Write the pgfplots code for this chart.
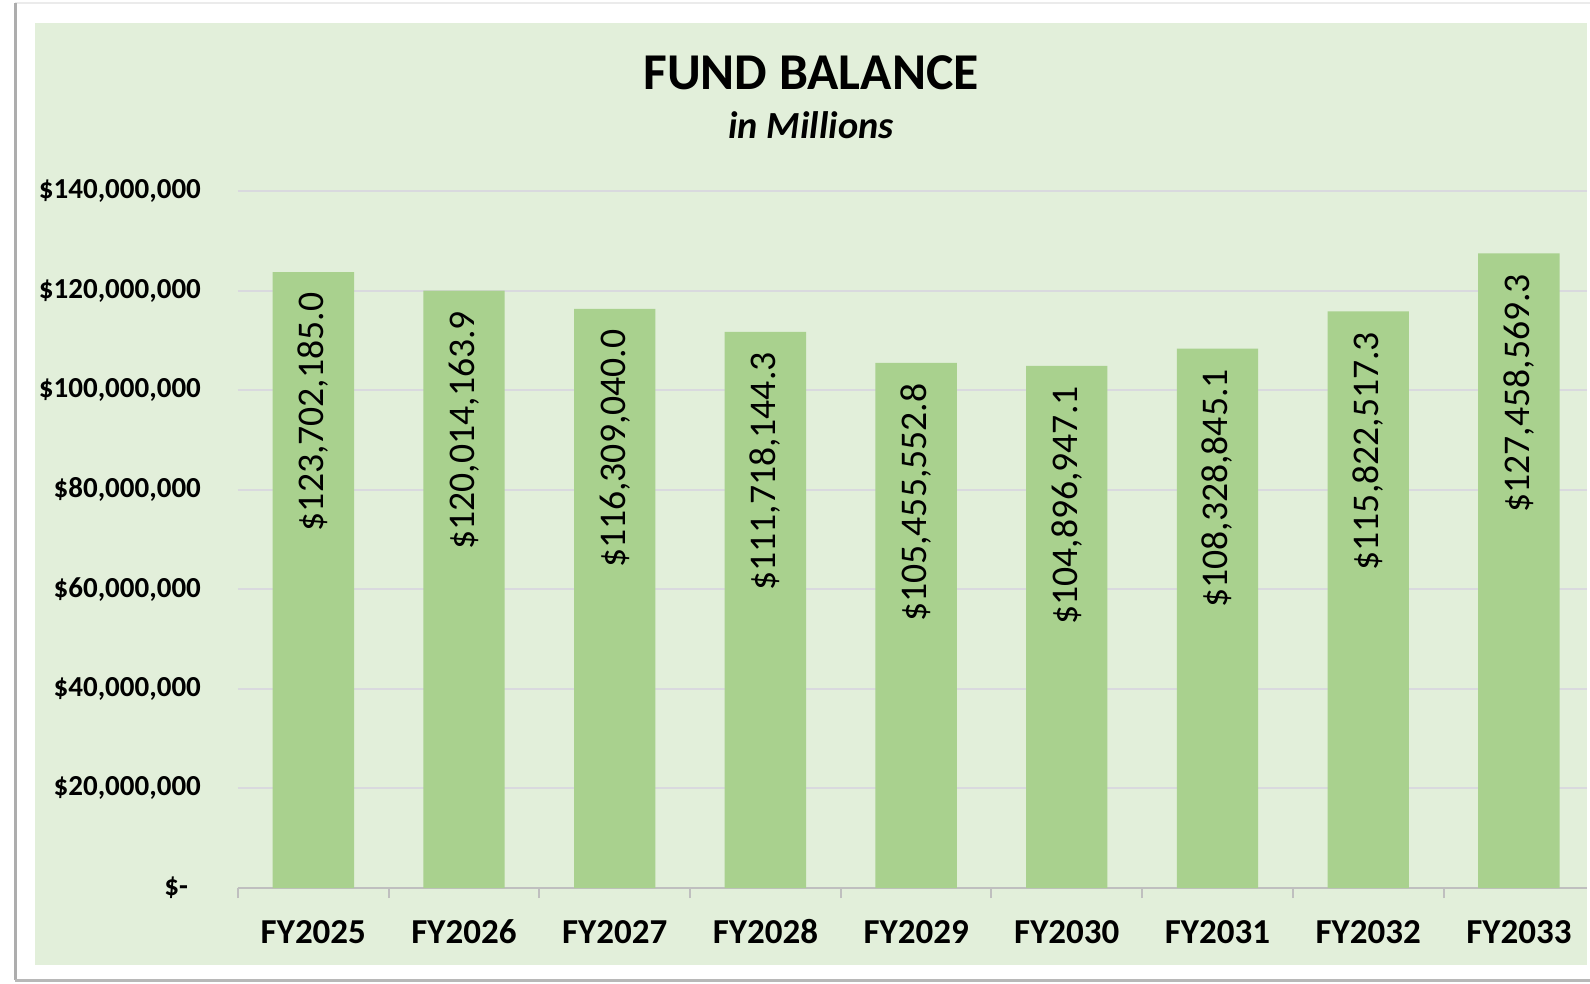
\documentclass[border=0pt]{standalone}
\usepackage{pgfplots}
\pgfplotsset{compat=1.18}
\usepackage{fontspec}
\setmainfont{Carlito}
\definecolor{panel}{HTML}{E2EFDA}
\definecolor{barc}{HTML}{A9D18E}
\definecolor{gridc}{HTML}{D9D9DE}
\definecolor{axisc}{HTML}{BFBFBF}
\begin{document}
\begin{tikzpicture}[x=0.3pt,y=0.3pt]
\path[use as bounding box] (0,0) rectangle (1590,983);
\fill[white] (0,0) rectangle (1590,983);
\fill[black!8] (15,978.5) rectangle (1590,981);
\fill[black!32] (13.5,3) rectangle (17,980);
\fill[black!28] (15,1.5) rectangle (1590,4.5);
\fill[panel] (35,18) rectangle (1587,960);
\node[font=\bfseries\fontsize{15.5}{18}\selectfont] at (811,910) {FUND BALANCE};
\node[font=\bfseries\itshape\fontsize{11.5}{14}\selectfont] at (811,858) {in Millions};
\begin{axis}[
  at={(71.4pt,28.5pt)}, anchor=south west,
  scale only axis, width=404.7pt, height=209.1pt,
  ybar, bar width=0.54,
  xmin=-0.5, xmax=8.452, ymin=0, ymax=140000000,
  enlargelimits=false,
  axis lines*=left,
  y axis line style={draw=none},
  x axis line style={draw=axisc, line width=0.6pt},
  ymajorgrids, grid style={draw=gridc, line width=0.6pt},
  ytick={0,20000000,40000000,60000000,80000000,100000000,120000000,140000000},
  yticklabels={{\$-\hspace*{3.9pt}},{\$20,000,000},{\$40,000,000},{\$60,000,000},{\$80,000,000},{\$100,000,000},{\$120,000,000},{\$140,000,000}},
  scaled y ticks=false,
  yticklabel style={font=\bfseries\fontsize{8.7}{10}\selectfont, xshift=-7.6pt},
  xtick={0,1,2,3,4,5,6,7,8},
  xticklabels={FY2025,FY2026,FY2027,FY2028,FY2029,FY2030,FY2031,FY2032,FY2033},
  xticklabel style={font=\bfseries\fontsize{10.5}{12}\selectfont, anchor=north, text height=6.8pt, text depth=0pt, yshift=-6.4pt},
  minor xtick={-0.5,0.5,1.5,2.5,3.5,4.5,5.5,6.5,7.5},
  major tick length=0pt, minor tick length=3pt, tick align=outside,
  ytick style={draw=none},
  minor tick style={draw=axisc, line width=0.6pt},
  major x tick style={draw=none},
  nodes near coords, point meta=explicit symbolic,
  nodes near coords style={rotate=90, anchor=east, inner xsep=6pt, font=\fontsize{11.3}{13}\selectfont, text=black},
]
\addplot[fill=barc, draw=none] coordinates {
 (0,123702185.0) [\$123,702,185.0]
 (1,120014163.9) [\$120,014,163.9]
 (2,116309040.0) [\$116,309,040.0]
 (3,111718144.3) [\$111,718,144.3]
 (4,105455552.8) [\$105,455,552.8]
 (5,104896947.1) [\$104,896,947.1]
 (6,108328845.1) [\$108,328,845.1]
 (7,115822517.3) [\$115,822,517.3]
 (8,127458569.3) [\$127,458,569.3]
};
\end{axis}
\end{tikzpicture}
\end{document}
